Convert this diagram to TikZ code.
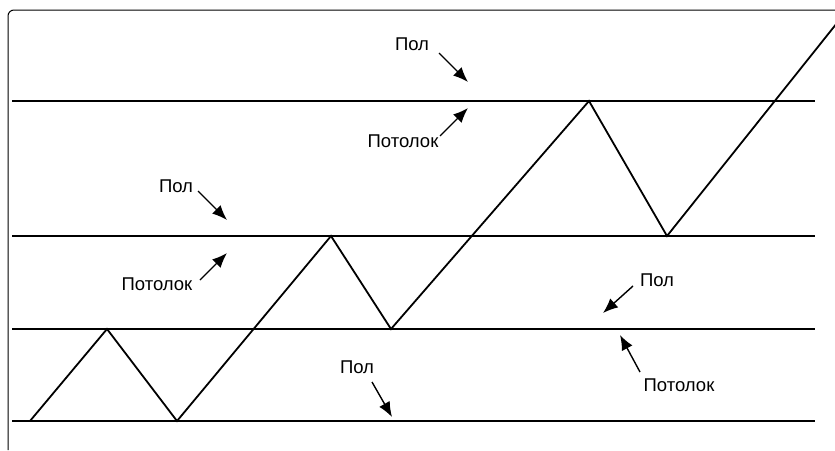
\documentclass[tikz,border=0pt]{standalone}
\usepackage{fontspec}
\setmainfont{Liberation Sans}
\usetikzlibrary{arrows.meta}

\tikzset{
  level/.style={line width=1.3pt},
  pointer/.style={line width=1.4pt,-{Latex[length=15pt,width=12pt]}},
  tag/.style={font=\fontsize{18.5}{20}\selectfont,inner sep=1pt}
}

\begin{document}
\begin{tikzpicture}[x=1pt,y=-1pt]
  \useasboundingbox (0,0) rectangle (835,450);
  % frame
  \draw[line width=1pt,rounded corners=6pt] (8,450) -- (8,10) -- (835,10);
  % levels
  \draw[level] (12,101) -- (815,101);
  \draw[level] (12,236) -- (815,236);
  \draw[level] (12,329) -- (815,329);
  \draw[level] (12,421) -- (815,421);
  % price path
  \draw[line width=1.8pt,line join=miter] (30,421) -- (107,329) -- (177,421) -- (331,236)
    -- (391,329) -- (589,101) -- (667,236) -- (837,23);
  % labels
  \node[tag] (pol1) at (412,44) {Пол};
  \coordinate (pol1tip) at (468,82);
  \draw[pointer] (439,53) -- (pol1tip);
  \node[tag] (pot1) at (403,141) {Потолок};
  \coordinate (pot1tip) at (468,108);
  \draw[pointer] (440,136) -- (pot1tip);
  \node[tag] (pol2) at (176,186) {Пол};
  \coordinate (pol2tip) at (227,220);
  \draw[pointer] (198,191) -- (pol2tip);
  \node[tag] (pot2) at (157,284) {Потолок};
  \coordinate (pot2tip) at (227,253);
  \draw[pointer] (200,280) -- (pot2tip);
  \node[tag] (pol3) at (657,280) {Пол};
  \coordinate (pol3tip) at (603,313);
  \draw[pointer] (633,286) -- (pol3tip);
  \node[tag] (pot3) at (679,385) {Потолок};
  \coordinate (pot3tip) at (620,335);
  \draw[pointer] (640,372) -- (pot3tip);
  \node[tag] (pol4) at (357,367) {Пол};
  \coordinate (pol4tip) at (392,417);
  \draw[pointer] (372,382) -- (pol4tip);
\end{tikzpicture}
\end{document}
